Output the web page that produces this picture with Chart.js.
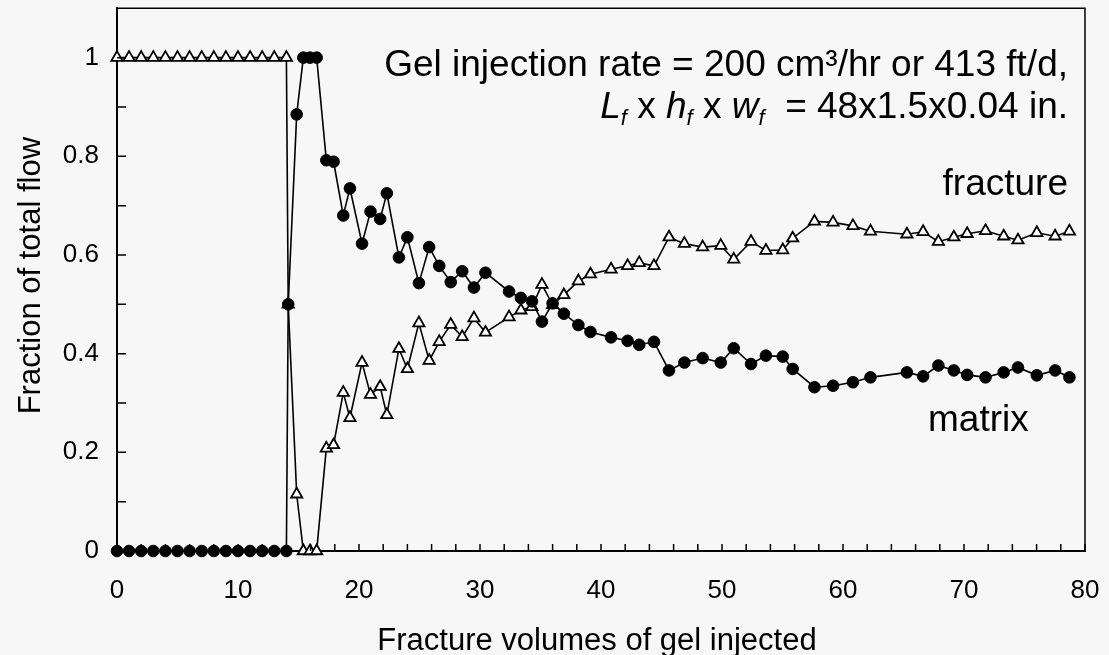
<!DOCTYPE html>
<html><head><meta charset="utf-8">
<script src="https://cdn.jsdelivr.net/npm/chart.js@4.4.1/dist/chart.umd.min.js"></script>
<style>html,body{margin:0;padding:0;background:#f7f7f7;}#wrap{width:1109px;height:655px;position:relative;}</style>
</head><body><div id="wrap"><canvas id="c" width="1109" height="655"></canvas></div>
<script>
// Fracture volumes of gel injected (x)
const fvInjected = [0,1,2,3,4,5,6,7,8,9,10,11,12,13,14,
  14.15,14.85,15.4,15.95,16.5,
  17.3,17.9,18.7,19.25,20.25,20.95,21.75,22.3,23.3,24.0,
  24.95,25.8,26.63,27.58,28.53,29.5,30.45,
  32.4,33.38,34.3,35.12,36.0,36.93,38.13,39.13,
  40.83,42.2,43.16,44.38,45.62,46.89,48.4,49.9,50.97,52.4,
  53.63,55.02,55.84,57.64,59.18,60.82,62.27,
  65.28,66.62,67.88,69.16,70.26,71.78,73.28,74.46,76.02,77.53,78.71];
// Fraction of total flow through the fracture (open triangles)
const fractureFlow = [1,1,1,1,1,1,1,1,1,1,1,1,1,1,1,
  0.5,0.115,0,0,0,
  0.208,0.215,0.321,0.270,0.382,0.317,0.333,0.276,0.410,0.369,
  0.462,0.386,0.424,0.459,0.434,0.472,0.443,
  0.474,0.488,0.495,0.540,0.499,0.519,0.547,0.561,
  0.571,0.578,0.584,0.578,0.636,0.623,0.616,0.619,0.591,0.627,
  0.609,0.610,0.634,0.668,0.666,0.659,0.648,
  0.642,0.647,0.627,0.636,0.643,0.649,0.638,0.630,0.645,0.638,0.648];
// Fraction of total flow through the matrix (filled circles)
const matrixFlow = [0,0,0,0,0,0,0,0,0,0,0,0,0,0,0,
  0.5,0.885,1,1,1,
  0.792,0.789,0.680,0.735,0.623,0.688,0.673,0.725,0.595,0.636,
  0.543,0.616,0.578,0.545,0.567,0.534,0.564,
  0.526,0.513,0.506,0.465,0.502,0.481,0.458,0.444,
  0.433,0.426,0.418,0.424,0.366,0.382,0.391,0.382,0.411,0.379,
  0.396,0.394,0.369,0.332,0.335,0.342,0.352,
  0.362,0.354,0.376,0.366,0.357,0.352,0.362,0.372,0.356,0.366,0.352];
const xTickValues = [0,10,20,30,40,50,60,70,80];
const yTickValues = [0,0.2,0.4,0.6,0.8,1];
const xMinorTicks = [];
for (let v = 0; v <= 80; v += 2) xMinorTicks.push(v);
const yMinorTicks = [0,0.1,0.2,0.3,0.4,0.5,0.6,0.7,0.8,0.9,1.0];
const xAxisTitle = 'Fracture volumes of gel injected';
const yAxisTitle = 'Fraction of total flow';
const noteLine1 = 'Gel injection rate = 200 cm\u00B3/hr or 413 ft/d,';
// [text, style] : i = italic, s = italic subscript, '' = regular
const noteLine2 = [['L','i'],['f','s'],[' x ',''],['h','i'],['f','s'],[' x ',''],['w','i'],['f','s'],['  = 48x1.5x0.04 in.','']];
const seriesLabels = ['fracture','matrix'];

const FONT = '"Liberation Sans", Arial, sans-serif';

const decor = {
  id: 'decor',
  afterDraw(chart) {
    const ctx = chart.ctx, a = chart.chartArea;
    const xs = chart.scales.x, ys = chart.scales.y;
    ctx.save();
    ctx.strokeStyle = '#000';
    ctx.lineWidth = 1.5;
    ctx.beginPath();
    ctx.moveTo(a.left, a.top); ctx.lineTo(a.right, a.top); ctx.lineTo(a.right, a.bottom);
    ctx.stroke();
    ctx.beginPath();
    yMinorTicks.forEach(v => { const p = ys.getPixelForValue(v); ctx.moveTo(a.left, p); ctx.lineTo(a.left + 9, p); });
    xMinorTicks.forEach(v => { const p = xs.getPixelForValue(v); ctx.moveTo(p, a.bottom); ctx.lineTo(p, a.bottom - 7); });
    ctx.stroke();
    ctx.fillStyle = '#000';
    ctx.font = '31px ' + FONT;
    ctx.textAlign = 'center'; ctx.textBaseline = 'middle';
    ctx.fillText(xAxisTitle, 597, 641);
    ctx.save();
    ctx.translate(31, (a.top + a.bottom) / 2 - 4); ctx.rotate(-Math.PI / 2);
    ctx.fillText(yAxisTitle, 0, 0);
    ctx.restore();
    ctx.textBaseline = 'alphabetic';
    ctx.textAlign = 'right';
    ctx.font = '37px ' + FONT;
    ctx.fillText(noteLine1, 1068, 76);
    ctx.textAlign = 'left';
    const fontFor = s => s === 'i' ? 'italic 37px ' + FONT : (s === 's' ? 'italic 22px ' + FONT : '37px ' + FONT);
    let total = 0;
    noteLine2.forEach(([t, s]) => { ctx.font = fontFor(s); total += ctx.measureText(t).width; });
    let x = 1068 - total;
    noteLine2.forEach(([t, s]) => {
      ctx.font = fontFor(s);
      ctx.fillText(t, x, s === 's' ? 125 : 118);
      x += ctx.measureText(t).width;
    });
    ctx.font = '37px ' + FONT;
    ctx.textAlign = 'right';
    ctx.fillText(seriesLabels[0], 1068, 195);
    ctx.textAlign = 'left';
    ctx.fillText(seriesLabels[1], 928, 431);
    ctx.restore();
  }
};

new Chart(document.getElementById('c'), {
  type: 'line',
  data: {
    datasets: [
      {
        label: 'matrix',
        data: fvInjected.map((x, i) => ({x: x, y: matrixFlow[i]})),
        borderColor: '#000', borderWidth: 1.6,
        pointStyle: 'circle', pointRadius: 5.8,
        pointBackgroundColor: '#000', pointBorderColor: '#000', pointBorderWidth: 1,
        tension: 0, clip: false
      },
      {
        label: 'fracture',
        data: fvInjected.map((x, i) => ({x: x, y: fractureFlow[i]})),
        borderColor: '#000', borderWidth: 1.6,
        pointStyle: 'triangle', pointRadius: 6.5,
        pointBackgroundColor: '#fff', pointBorderColor: '#000', pointBorderWidth: 1.8,
        tension: 0, clip: false
      }
    ]
  },
  options: {
    responsive: false, animation: false, devicePixelRatio: 1,
    layout: {padding: {left: 0, right: 24, top: 7, bottom: 0}},
    plugins: {legend: {display: false}, tooltip: {enabled: false}},
    scales: {
      x: {
        type: 'linear', min: 0, max: 80,
        grid: {display: false, drawTicks: false},
        border: {display: true, color: '#000', width: 2},
        ticks: {color: '#000', font: {size: 26, family: FONT}, padding: 24, maxRotation: 0, callback: v => String(v)},
        afterBuildTicks: s => { s.ticks = xTickValues.map(v => ({value: v})); },
        afterFit: s => { s.height = 104; s.paddingLeft = 0; s.paddingRight = 0; }
      },
      y: {
        type: 'linear', min: 0, max: 1.1,
        grid: {display: false, drawTicks: false},
        border: {display: true, color: '#000', width: 2},
        ticks: {color: '#000', font: {size: 26, family: FONT}, padding: 18, callback: v => String(v)},
        afterBuildTicks: s => { s.ticks = yTickValues.map(v => ({value: v})); },
        afterFit: s => { s.width = 117; s.paddingTop = 0; s.paddingBottom = 0; }
      }
    }
  },
  plugins: [decor]
});
</script>
</body></html>
